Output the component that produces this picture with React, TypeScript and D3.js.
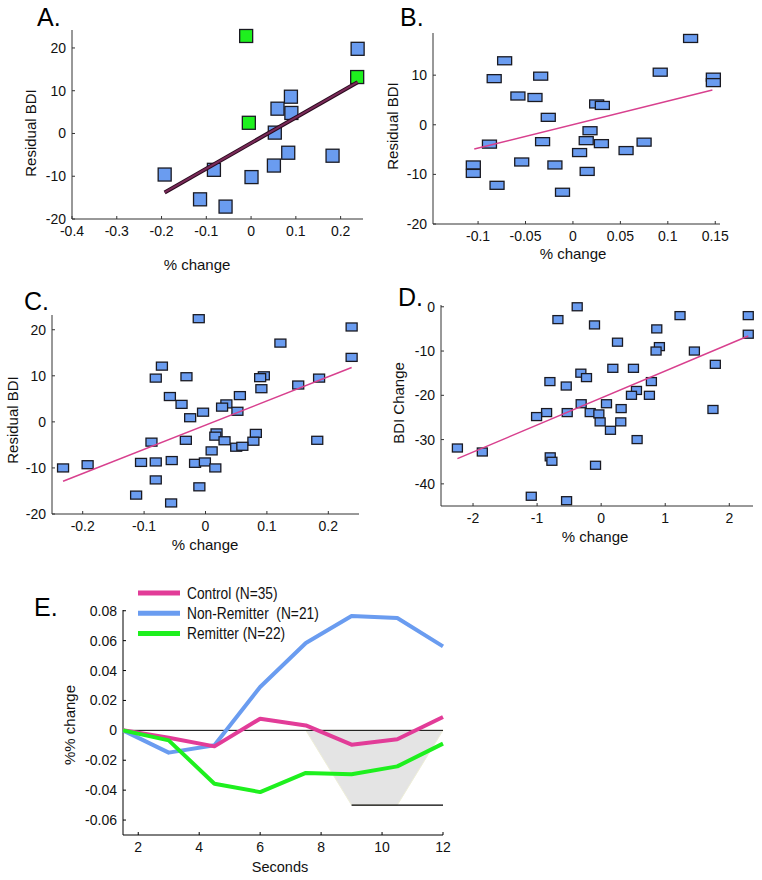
import React from "react";
import * as d3 from "d3";

// ---------- Panel A ----------
const aBlueX = [0.238, 0.089, 0.059, 0.090, 0.053, 0.083, 0.182, 0.051, -0.083, -0.193, 0.001, -0.114, -0.057];
const aBlueY = [19.8, 8.6, 5.8, 4.8, 0.2, -4.5, -5.2, -7.5, -8.5, -9.6, -10.2, -15.4, -17.1];
const aGreenX = [-0.011, 0.237, -0.005];
const aGreenY = [22.8, 13.2, 2.5];
const aFitX = [-0.193, 0.238];
const aFitY = [-13.8, 12.0];
const aXTicks = [-0.4, -0.3, -0.2, -0.1, 0, 0.1, 0.2];
const aYTicks = [-20, -10, 0, 10, 20];

// ---------- Panel B ----------
const bX = [0.124, -0.072, 0.092, 0.148, 0.148, -0.083, -0.034, -0.058, -0.040, 0.025, 0.031, -0.026, 0.018, 0.014, 0.030, 0.075, -0.032, -0.088, 0.007, 0.056, -0.054, -0.019, -0.105, -0.105, 0.015, -0.080, -0.011];
const bY = [17.4, 12.9, 10.6, 9.6, 8.5, 9.3, 9.8, 5.8, 5.5, 4.2, 3.9, 1.5, -1.2, -3.2, -3.8, -3.5, -3.4, -3.9, -5.6, -5.2, -7.5, -8.1, -8.1, -9.8, -9.4, -12.2, -13.6];
const bFitX = [-0.104, 0.147];
const bFitY = [-4.9, 7.0];
const bXTicks = [-0.1, -0.05, 0, 0.05, 0.1, 0.15];
const bYTicks = [-20, -10, 0, 10];

// ---------- Panel C ----------
const cX = [-0.011, 0.238, 0.122, 0.238, -0.071, -0.081, -0.031, 0.095, 0.089, 0.185, 0.151, 0.091, -0.058, 0.056, -0.039, 0.034, 0.027, -0.004, 0.052, -0.025, 0.018, 0.082, 0.016, -0.032, 0.031, 0.078, 0.182, -0.088, 0.050, 0.060, 0.010, -0.105, -0.081, -0.055, -0.017, -0.001, 0.016, -0.232, -0.192, -0.081, -0.010, -0.113, -0.056];
const cY = [22.4, 20.6, 17.1, 14.0, 12.1, 9.5, 9.8, 10.0, 9.6, 9.5, 8.0, 7.2, 5.5, 5.7, 3.8, 3.9, 3.2, 2.1, 2.3, 0.9, -2.4, -2.5, -3.1, -4.0, -4.1, -4.2, -4.0, -4.4, -5.5, -5.3, -6.3, -8.8, -8.7, -8.4, -9.0, -8.7, -10.0, -10.0, -9.3, -12.6, -14.1, -15.9, -17.6];
const cFitX = [-0.232, 0.238];
const cFitY = [-12.9, 11.8];
const cXTicks = [-0.2, -0.1, 0, 0.1, 0.2];
const cYTicks = [-20, -10, 0, 10, 20];

// ---------- Panel D ----------
const dX = [-0.374, -0.675, 1.231, 2.296, -0.104, 0.868, 2.296, 0.255, 0.909, 0.857, 1.455, 0.182, 0.504, 1.782, -0.317, -0.229, -0.800, 0.784, -0.545, 0.551, 0.473, 0.753, -0.312, 0.083, 0.312, 1.745, -0.852, -0.530, -0.171, -0.036, -1.008, -0.016, 0.306, 0.145, 0.561, -2.244, -1.855, -0.795, -0.769, -0.088, -1.091, -0.540];
const dY = [0, -2.9, -2.0, -2.0, -4.1, -5.0, -6.2, -8.0, -9.0, -10.0, -10.0, -13.9, -13.9, -13.0, -15.0, -16.0, -16.9, -16.9, -17.9, -18.9, -20.0, -20.0, -21.9, -21.9, -23.0, -23.2, -23.9, -23.9, -23.9, -24.2, -24.8, -26.0, -26.0, -27.9, -30.0, -31.9, -32.8, -33.9, -34.9, -35.8, -42.8, -43.8];
const dFitX = [-2.244, 2.296];
const dFitY = [-34.3, -6.6];
const dXTicks = [-2, -1, 0, 1, 2];
const dYTicks = [-40, -30, -20, -10, 0];

// ---------- Panel E ----------
const eSeconds = [1.5, 3, 4.5, 6, 7.5, 9, 10.5, 12];
const eControl = [0, -0.0049, -0.0107, 0.0078, 0.0033, -0.0096, -0.006, 0.0089];
const eNonRemitter = [0, -0.0149, -0.010, 0.029, 0.0584, 0.0765, 0.0751, 0.0562];
const eRemitter = [0, -0.0067, -0.0357, -0.0413, -0.0285, -0.0294, -0.0241, -0.0089];
const eShadeX = [7.5, 9, 10.5, 12];
const eShadeY = [0, -0.05, -0.05, 0];
const eSigX = [9, 12];
const eSigY = -0.05;
const eXTicks = [2, 4, 6, 8, 10, 12];
const eYTicks = [-0.06, -0.04, -0.02, 0, 0.02, 0.04, 0.06, 0.08];
const eLegend = ["Control\u00a0(N=35)", "Non-Remitter\u00a0\u00a0(N=21)", "Remitter\u00a0(N=22)"];

const FONT = "'Liberation Sans', Arial, Helvetica, sans-serif";
const BLUE = "#6a9cf0";
const GREEN = "#1ef01e";
const PINK = "#d8408e";
const AXIS = "#333";

type Box = { l: number; r: number; t: number; b: number };

function Axes({ x, y, box, xTicks, yTicks, xFmt, yFmt, color = AXIS }: any) {
  return (
    <g fontFamily={FONT} fontSize={14} fill="#111">
      <line x1={box.l} x2={box.r} y1={box.b} y2={box.b} stroke={color} strokeWidth={1} />
      <line x1={box.l} x2={box.l} y1={box.t} y2={box.b} stroke={color} strokeWidth={1} />
      {xTicks.map((t: number, i: number) => (
        <g key={"x" + i}>
          <line x1={x(t)} x2={x(t)} y1={box.b} y2={box.b - 3} stroke={color} />
          <text x={x(t)} y={box.b + 17} textAnchor="middle">{xFmt(t)}</text>
        </g>
      ))}
      {yTicks.map((t: number, i: number) => (
        <g key={"y" + i}>
          <line x1={box.l} x2={box.l + 3} y1={y(t)} y2={y(t)} stroke={color} />
          <text x={box.l - 6} y={y(t) + 5} textAnchor="end">{yFmt(t)}</text>
        </g>
      ))}
    </g>
  );
}

const fmtNum = (t: number) => String(+t.toFixed(3));

function Scatter(props: any) {
  const { box, xDomain, yDomain, xTicks, yTicks, xs, ys, colors, mw, mh, fitX, fitY, fitStyle, label, labelPos, yLabel, yLabelPos, xLabelPos } = props;
  const x = d3.scaleLinear().domain(xDomain).range([box.l, box.r]);
  const y = d3.scaleLinear().domain(yDomain).range([box.b, box.t]);
  const line = d3.line<number>().x((d, i) => x(fitX[i])).y((d) => y(d));
  return (
    <g>
      <Axes x={x} y={y} box={box} xTicks={xTicks} yTicks={yTicks} xFmt={fmtNum} yFmt={fmtNum} />
      {xs.map((v: number, i: number) => (
        <rect key={i} x={x(v) - mw / 2} y={y(ys[i]) - mh / 2} width={mw} height={mh}
          fill={colors[i]} stroke="#1a1a22" strokeWidth={1.3} />
      ))}
      {fitStyle === "thick" ? (
        <g>
          <path d={line(fitY) || ""} stroke="#2a0a1e" strokeWidth={4} fill="none" />
          <path d={line(fitY) || ""} stroke="#7a2a58" strokeWidth={2} fill="none" />
        </g>
      ) : (
        <path d={line(fitY) || ""} stroke={PINK} strokeWidth={1.5} fill="none" />
      )}
      <text x={labelPos[0]} y={labelPos[1]} fontFamily={FONT} fontSize={25} fill="#000">{label}</text>
      <text transform={`translate(${yLabelPos[0]},${yLabelPos[1]}) rotate(-90)`} textAnchor="middle"
        fontFamily={FONT} fontSize={15} fill="#111">{yLabel}</text>
      <text x={xLabelPos[0]} y={xLabelPos[1]} textAnchor="middle" fontFamily={FONT} fontSize={15} fill="#111">% change</text>
    </g>
  );
}

function PanelE() {
  const box: Box = { l: 123, r: 443, t: 610, b: 835 };
  const x = d3.scaleLinear().domain([1.5, 12]).range([box.l, box.r]);
  const y = d3.scaleLinear().domain([-0.07, 0.0805]).range([box.b, box.t]);
  const ln = d3.line<number>().x((d, i) => x(eSeconds[i])).y((d) => y(d));
  const shade = d3.line<number>().x((d, i) => x(eShadeX[i])).y((d) => y(d));
  const series = [
    { v: eNonRemitter, c: BLUE },
    { v: eControl, c: "#e23c98" },
    { v: eRemitter, c: GREEN },
  ];
  const legendColors = ["#e23c98", BLUE, GREEN];
  return (
    <g>
      <path d={(shade(eShadeY) || "") + "Z"} fill="#e4e4e4" stroke="#eeeed8" strokeWidth={1} />
      <line x1={box.l} x2={box.r} y1={y(0)} y2={y(0)} stroke="#000" strokeWidth={1} />
      <line x1={x(eSigX[0])} x2={x(eSigX[1])} y1={y(eSigY)} y2={y(eSigY)} stroke="#000" strokeWidth={1.3} />
      <Axes x={x} y={y} box={box} xTicks={eXTicks} yTicks={eYTicks} xFmt={fmtNum} yFmt={fmtNum} color="#000" />
      {series.map((s, i) => (
        <path key={i} d={ln(s.v) || ""} stroke={s.c} strokeWidth={4} fill="none" strokeLinejoin="round" />
      ))}
      {eLegend.map((t, i) => (
        <g key={i}>
          <line x1={138} x2={180} y1={593 + i * 20.3} y2={593 + i * 20.3} stroke={legendColors[i]} strokeWidth={5} />
          <text transform={`translate(187,${598.5 + i * 20.3}) scale(0.86,1)`} fontFamily={FONT} fontSize={16} fill="#111">{t}</text>
        </g>
      ))}
      <text x={34} y={616} fontFamily={FONT} fontSize={25} fill="#000">E.</text>
      <text transform={`translate(${75},${725}) rotate(-90)`} textAnchor="middle" fontFamily={FONT} fontSize={15} fill="#111">%% change</text>
      <text x={280} y={872} textAnchor="middle" fontFamily={FONT} fontSize={14.5} fill="#111">Seconds</text>
    </g>
  );
}

export default function App() {
  const aColors = [...aBlueX.map(() => BLUE), ...aGreenX.map(() => GREEN)];
  return (
    <svg width={762} height={880} style={{ position: "absolute", left: 0, top: 0, background: "#fff" }}>
      <rect width={762} height={880} fill="#fff" />
      <Scatter box={{ l: 72, r: 363, t: 30, b: 219 }} xDomain={[-0.4, 0.25]} yDomain={[-20, 24.2]}
        xTicks={aXTicks} yTicks={aYTicks} xs={[...aBlueX, ...aGreenX]} ys={[...aBlueY, ...aGreenY]}
        colors={aColors} mw={13} mh={13} fitX={aFitX} fitY={aFitY} fitStyle="thick"
        label="A." labelPos={[37, 26]} yLabel="Residual BDI" yLabelPos={[36, 133]} xLabelPos={[197, 270]} />
      <Scatter box={{ l: 433, r: 720, t: 33, b: 224 }} xDomain={[-0.1475, 0.155]} yDomain={[-20, 18.5]}
        xTicks={bXTicks} yTicks={bYTicks} xs={bX} ys={bY} colors={bX.map(() => BLUE)} mw={14} mh={8}
        fitX={bFitX} fitY={bFitY} fitStyle="thin"
        label="B." labelPos={[400, 26]} yLabel="Residual BDI" yLabelPos={[398, 126]} xLabelPos={[573, 259]} />
      <Scatter box={{ l: 52, r: 359, t: 315, b: 514 }} xDomain={[-0.25, 0.25]} yDomain={[-20, 23.2]}
        xTicks={cXTicks} yTicks={cYTicks} xs={cX} ys={cY} colors={cX.map(() => BLUE)} mw={11} mh={8}
        fitX={cFitX} fitY={cFitY} fitStyle="thin"
        label="C." labelPos={[24, 310]} yLabel="Residual BDI" yLabelPos={[18, 420]} xLabelPos={[205, 550]} />
      <Scatter box={{ l: 441, r: 753, t: 305, b: 506 }} xDomain={[-2.5, 2.37]} yDomain={[-45, 0.4]}
        xTicks={dXTicks} yTicks={dYTicks} xs={dX} ys={dY} colors={dX.map(() => BLUE)} mw={10} mh={8}
        fitX={dFitX} fitY={dFitY} fitStyle="thin"
        label="D." labelPos={[398, 306]} yLabel="BDI Change" yLabelPos={[404, 403]} xLabelPos={[595, 542]} />
      <PanelE />
    </svg>
  );
}
